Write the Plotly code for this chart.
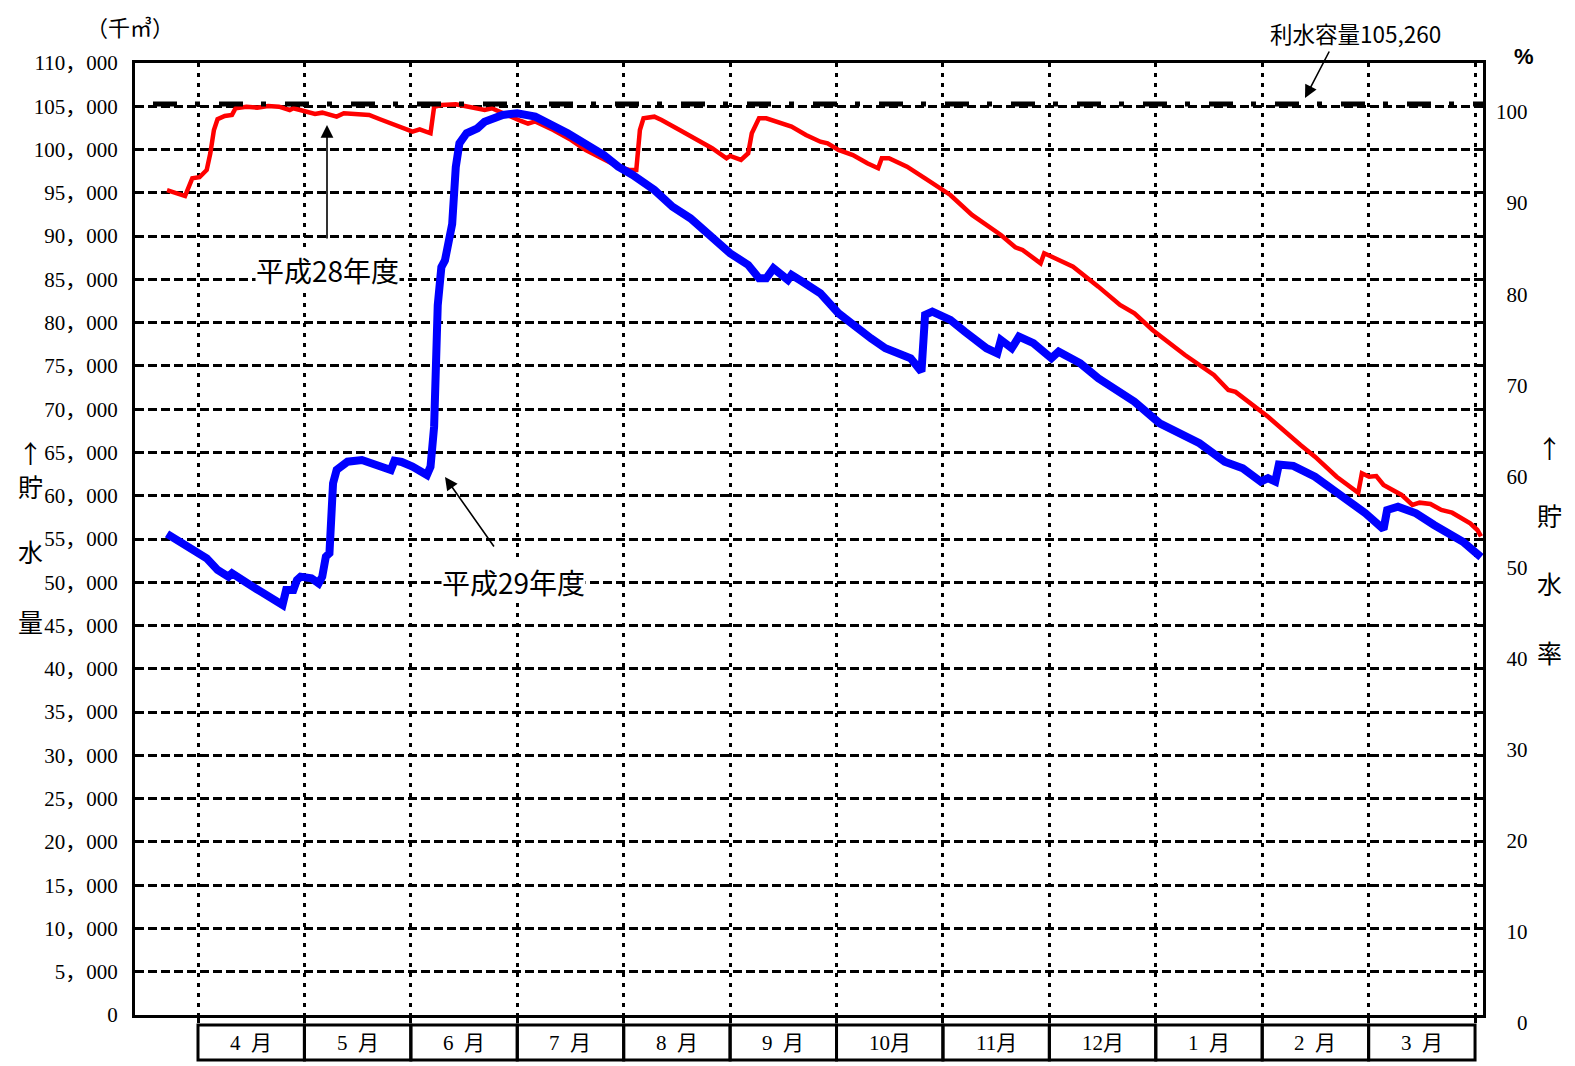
import plotly.graph_objects as go

# ---------------- data (day index from April 1, storage in 1000 m3) ----------------
h28_day = [0, 5, 7, 9, 11, 12, 13, 14, 16, 18, 19, 22, 25, 28, 31, 34, 35, 38, 41, 43, 47, 49, 51, 56, 59,
           64, 66, 68, 70, 73, 74, 76, 80, 83, 88, 90, 95, 98, 100, 102, 107, 112, 116, 122, 125, 128, 130,
           131, 132, 135, 137, 142, 148, 151, 155, 156, 159, 161, 162, 164, 166, 170, 173, 177, 181, 183,
           186, 190, 194, 197, 198, 200, 205, 210, 214, 217, 223, 231, 235, 237, 242, 243, 246, 251, 258,
           264, 268, 273, 282, 284, 290, 294, 296, 305, 309, 314, 318, 324, 330, 331, 333, 335, 337, 342,
           345, 347, 350, 353, 356, 361, 363, 364]
h28_val = [95300, 94630, 96680, 96800, 97640, 99570, 102260, 103500, 103880, 104000, 104770, 104950, 104840,
           105040, 104950, 104570, 104770, 104380, 104110, 104260, 103800, 104190, 104110, 104000, 103500,
           102720, 102460, 102070, 102340, 101880, 104950, 105150, 105230, 104950, 104570, 104770, 103800,
           103300, 103000, 103250, 102260, 101100, 99950, 98600, 98020, 97640, 97640,
           102260, 103610, 103800, 103420, 102260, 100910, 100150, 98990, 99260, 98800, 99570, 101880,
           103610, 103610, 103030, 102650, 101690, 100910, 100720,
           99950, 99370, 98410, 97840, 98990, 98990, 98020, 96680, 95530, 94750, 92440, 90130, 88710, 88400,
           86860, 88020, 87440, 86470, 84160,
           82040, 81080, 79150, 76260, 75690, 73950, 72220, 72000, 69130, 67600, 65860, 64510, 62200, 60350,
           62590, 62200, 62280, 61240, 60090,
           58930, 59200, 59050, 58350, 58040, 56820, 56040, 55300]

h29_day = [0, 5, 11, 14, 17, 18, 21, 22, 26, 30, 32, 33, 35, 36, 37, 40, 42, 43, 44, 45, 46, 47, 50, 54, 58,
           62, 63, 65, 68, 72, 73, 74, 75, 76, 77, 78, 79, 80, 81, 83, 86, 88, 90, 93, 97, 100, 102, 111, 117,
           121, 125, 129, 135, 140, 145, 150, 156, 161, 164, 166, 168, 172, 173, 176, 181, 186, 190, 195, 199,
           204, 206, 209, 210, 212, 217, 221, 227, 230, 231, 234, 236, 240, 245, 247, 253, 258, 268, 275, 283,
           286, 293, 298, 303, 305, 307, 308, 312, 318, 325, 332, 337, 338, 341, 346, 351, 359, 364]
h29_val = [55600, 54310, 52770, 51420, 50650, 51040, 50070, 49950, 48910, 47950, 47380, 49110, 49110, 50270,
           50650, 50460, 49880, 50650, 52960, 53350, 61440, 62980, 63930, 64130, 63550,
           62980, 64050, 63900, 63360, 62400, 63360, 68000, 82000, 86400, 87200, 90000, 91400, 98000, 100720,
           101880, 102460, 103220, 103610, 104000, 104190, 104000, 103800, 101880, 100340,
           99370, 98020, 97060, 95330, 93400, 92060, 90130, 88010, 86660, 85130, 85130, 86280, 84930, 85510,
           84740, 83390, 81080, 79730, 78190, 77040,
           76070, 75880, 74340, 80900, 81270, 80310, 78960, 77040, 76460, 78000, 77040, 78380, 77620, 75880,
           76650, 75300, 73570, 70870, 68370, 66820,
           66060, 63940, 63170, 61630, 62020, 61630, 63600, 63450, 62200, 60090, 57970, 56120, 58350, 58740,
           57970, 56620, 54690, 52900]

capacity = 105260
months = ["4\u2002月", "5\u2002月", "6\u2002月", "7\u2002月", "8\u2002月", "9\u2002月", "10月", "11月", "12月",
          "1\u2002月", "2\u2002月", "3\u2002月"]
left_ticks = list(range(0, 110001, 5000))
left_text = ["0" if v == 0 else f"{v // 1000}，{v % 1000:03d}" for v in left_ticks]
right_ticks = list(range(0, 101, 10))
right_text = [("\u2007" * (3 - len(str(v)))) + str(v) for v in right_ticks]

# ---------------- layout geometry (reference pixel coords; page body adds 8px offset) ----------------
OFF = 8
W, H = 1575 - OFF, 1066 - OFF
L, R, T, B = 135, 1483, 63, 1015


def px_x(p):
    return (p - L) / (R - L)


def px_y(p):
    return (B - p) / (B - T)


SERIF = "Liberation Serif, Noto Sans CJK JP"
SANS = "Noto Sans CJK JP, Liberation Sans"

fig = go.Figure()
fig.add_trace(go.Scatter(x=h28_day, y=h28_val, mode="lines", name="平成28年度",
                         line=dict(color="#ff0000", width=4.5), hoverinfo="skip"))
fig.add_trace(go.Scatter(x=h29_day, y=h29_val, mode="lines", name="平成29年度",
                         line=dict(color="#0000ff", width=8), hoverinfo="skip"))
# invisible traces to activate the month axis and the percentage axis
fig.add_trace(go.Scatter(x=[0, 12], y=[None, None], xaxis="x2", yaxis="y", showlegend=False,
                         hoverinfo="skip"))
fig.add_trace(go.Scatter(x=[None], y=[None], xaxis="x", yaxis="y2", showlegend=False,
                         hoverinfo="skip"))

kx = (1481 - 167) / 364.0
fig.update_layout(
    width=W, height=H,
    margin=dict(l=L - OFF, r=W - (R - OFF), t=T - OFF, b=H - (B - OFF)),
    paper_bgcolor="white", plot_bgcolor="white",
    showlegend=False,
    xaxis=dict(range=[(L - 167) / kx, (R - 167) / kx], showgrid=False, zeroline=False,
               showticklabels=False, ticks="", showline=True, mirror=True,
               linecolor="black", linewidth=3),
    xaxis2=dict(overlaying="x", range=[(L - 198) / 106.42, (R - 198) / 106.42],
                tickvals=list(range(0, 13)), showticklabels=False, ticks="outside",
                ticklen=7, tickwidth=3, tickcolor="black", side="bottom",
                showgrid=True, gridcolor="black", gridwidth=3.2, griddash="4px,6px",
                zeroline=False, showline=False),
    yaxis=dict(range=[0, 110000], tickvals=left_ticks, ticktext=left_text,
               tickfont=dict(family=SERIF, size=21, color="black"),
               showgrid=True, gridcolor="black", gridwidth=2.6, griddash="9px,4px",
               zeroline=False, ticks="", ticklabelstandoff=10,
               showline=True, mirror=True, linecolor="black", linewidth=3),
    yaxis2=dict(overlaying="y", side="right", range=[0, 110000 / (capacity / 100.0)],
                tickvals=right_ticks, ticktext=right_text, ticklabelshift=8,
                tickfont=dict(family=SERIF, size=21, color="black"),
                showgrid=False, zeroline=False, ticks="", ticklabelstandoff=12,
                showline=False),
)

# capacity line
fig.add_shape(type="line", xref="paper", yref="y", x0=px_x(153), x1=1, y0=capacity, y1=capacity,
              line=dict(color="black", width=5, dash="24px,18px,5px,19px"), layer="above")

# month boxes
for i, m in enumerate(months):
    fig.add_shape(type="rect", xref="x2", yref="paper", x0=i, x1=i + 1, y0=px_y(1060), y1=px_y(1025),
                  line=dict(color="black", width=3))
    fig.add_annotation(x=i + 0.5, y=px_y(1043), xref="x2", yref="paper", text=m, showarrow=False,
                       xanchor="center", yanchor="middle",
                       font=dict(family=SERIF, size=21, color="black"))

ann = []
# unit
ann.append(dict(x=px_x(130), y=px_y(26), text="（千㎥）", font=dict(family=SANS, size=22)))
ann.append(dict(x=px_x(1524), y=px_y(56), text="<b>%</b>", font=dict(family="Liberation Sans", size=22)))
# axis titles
for ch, yy in [("↑", 452), ("貯", 486), ("水", 551), ("量", 621)]:
    ann.append(dict(x=px_x(30), y=px_y(yy), text=ch, font=dict(family=SANS, size=25)))
for ch, yy in [("↑", 447), ("貯", 515), ("水", 583), ("率", 652)]:
    ann.append(dict(x=px_x(1549), y=px_y(yy), text=ch, font=dict(family=SANS, size=25)))
# labels
ann.append(dict(x=px_x(327), y=px_y(270), text="平成28年度", font=dict(family=SANS, size=28),
                bgcolor="white"))
ann.append(dict(x=px_x(513), y=px_y(582), text="平成29年度", font=dict(family=SANS, size=28),
                bgcolor="white"))
ann.append(dict(x=px_x(1355), y=px_y(33), text="利水容量105,260", font=dict(family=SANS, size=22.5)))
for a in ann:
    a.setdefault("showarrow", False)
    a["xref"] = "paper"
    a["yref"] = "paper"
    a["xanchor"] = "center"
    a["yanchor"] = "middle"
    a["borderpad"] = 0
    a["font"]["color"] = "black"
    fig.add_annotation(**a)

# arrows
for (hx, hy, tx, ty) in [(327, 125, 327, 240), (445, 477, 495, 548), (1305, 98, 1330, 50)]:
    fig.add_annotation(x=px_x(hx), y=px_y(hy), xref="paper", yref="paper", text="",
                       showarrow=True, ax=tx - hx, ay=ty - hy, arrowhead=2, arrowsize=1.6,
                       arrowwidth=1.6, arrowcolor="black", standoff=0)

fig.write_html("out.html")
